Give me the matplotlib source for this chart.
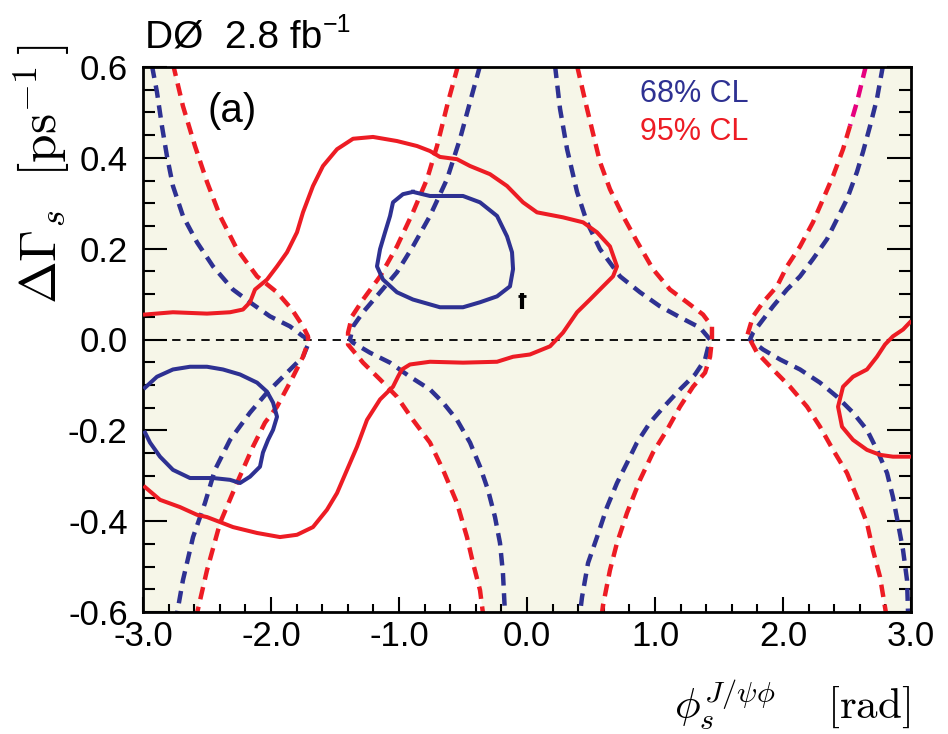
import numpy as np
import matplotlib
matplotlib.use("Agg")
import matplotlib.pyplot as plt
from matplotlib.ticker import MultipleLocator, FuncFormatter
from matplotlib.transforms import offset_copy

plt.rcParams["font.family"] = ["Liberation Sans", "DejaVu Sans"]
plt.rcParams["mathtext.fontset"] = "cm"
plt.rcParams["axes.unicode_minus"] = False
plt.rcParams["lines.scale_dashes"] = False

# ---------------- data ----------------
# 68% CL contours (phi_s [rad], DeltaGamma_s [ps^-1])
CL68_A_PHI = [-0.891, -0.758, -0.500, -0.367, -0.234, -0.156, -0.117, -0.109, -0.133, -0.234,
              -0.367, -0.500, -0.680, -0.891, -1.016, -1.125, -1.172, -1.148, -1.109, -1.070,
              -1.047, -0.969, -0.891]
CL68_A_DG = [0.325, 0.316, 0.316, 0.302, 0.272, 0.227, 0.192, 0.155, 0.117, 0.095,
             0.082, 0.071, 0.071, 0.088, 0.104, 0.132, 0.161, 0.199, 0.236, 0.272,
             0.302, 0.320, 0.325]
CL68_B_PHI = [-2.984, -2.891, -2.766, -2.633, -2.500, -2.375, -2.242, -2.109, -2.031, -1.984,
              -1.953, -1.984, -2.023, -2.063, -2.086, -2.164, -2.242, -2.320, -2.453, -2.633,
              -2.766, -2.867, -2.945, -2.984]
CL68_B_DG = [-0.106, -0.082, -0.066, -0.060, -0.060, -0.066, -0.077, -0.095, -0.115, -0.139,
             -0.170, -0.199, -0.221, -0.249, -0.280, -0.302, -0.316, -0.309, -0.305, -0.305,
             -0.287, -0.258, -0.227, -0.205]

# 95% CL contours
CL95_A_PHI = [-2.984, -2.766, -2.500, -2.320, -2.219, -2.164, -2.125, -2.031, -1.953, -1.875,
              -1.797, -1.750, -1.672, -1.594, -1.484, -1.359, -1.203, -1.016, -0.859, -0.758,
              -0.680, -0.547, -0.445, -0.289, -0.156, -0.031, 0.078, 0.281, 0.438, 0.547,
              0.648, 0.703, 0.672, 0.594, 0.492, 0.391, 0.281, 0.180, 0.023, -0.109,
              -0.234, -0.500, -0.758, -0.914, -0.977, -1.008, -1.047, -1.148, -1.250, -1.328,
              -1.406, -1.484, -1.563, -1.672, -1.797, -1.930, -2.109, -2.297, -2.398, -2.500,
              -2.578, -2.711, -2.867, -2.984]
CL95_A_DG = [0.055, 0.060, 0.057, 0.060, 0.066, 0.082, 0.110, 0.132, 0.161, 0.192,
             0.236, 0.280, 0.338, 0.382, 0.419, 0.442, 0.446, 0.437, 0.426, 0.415,
             0.402, 0.397, 0.382, 0.364, 0.338, 0.302, 0.280, 0.269, 0.258, 0.236,
             0.205, 0.161, 0.139, 0.117, 0.088, 0.060, 0.015, -0.015, -0.033, -0.038,
             -0.049, -0.051, -0.049, -0.055, -0.066, -0.082, -0.104, -0.132, -0.177, -0.236,
             -0.287, -0.338, -0.375, -0.413, -0.430, -0.435, -0.426, -0.413, -0.402, -0.391,
             -0.386, -0.369, -0.353, -0.325]
CL95_B_PHI = [2.992, 2.938, 2.859, 2.797, 2.734, 2.656, 2.547, 2.469, 2.430, 2.461,
              2.547, 2.656, 2.758, 2.859, 2.992]
CL95_B_DG = [0.038, 0.022, 0.007, -0.011, -0.038, -0.066, -0.082, -0.104, -0.148, -0.192,
             -0.221, -0.243, -0.254, -0.258, -0.258]

# best-fit point
BEST_PHI = [-0.039]
BEST_DG = [0.085]

# inner (blue) band boundaries
IN_L_X = [-2.930, -2.891, -2.852, -2.813, -2.766, -2.688, -2.578, -2.453, -2.297, -2.164,
          -2.008, -1.852, -1.750, -1.695, -1.750, -1.875, -2.031, -2.164, -2.320, -2.438,
          -2.516, -2.609, -2.688, -2.734]
IN_L_Y = [0.603, 0.545, 0.470, 0.404, 0.338, 0.272, 0.214, 0.161, 0.110, 0.082,
          0.051, 0.029, 0.007, 0.000, -0.038, -0.073, -0.117, -0.161, -0.221, -0.287,
          -0.360, -0.435, -0.530, -0.603]
IN_CL_X = [-0.367, -0.445, -0.523, -0.625, -0.758, -0.891, -1.016, -1.148, -1.281, -1.359,
           -1.383, -1.359, -1.227, -1.070, -0.914, -0.758, -0.656, -0.547, -0.445, -0.367,
           -0.305, -0.250, -0.211, -0.188, -0.172]
IN_CL_Y = [0.603, 0.523, 0.442, 0.353, 0.272, 0.205, 0.148, 0.104, 0.060, 0.029,
           0.000, -0.007, -0.029, -0.051, -0.082, -0.110, -0.139, -0.177, -0.227, -0.280,
           -0.331, -0.391, -0.448, -0.514, -0.603]
IN_CR_X = [0.219, 0.258, 0.313, 0.391, 0.469, 0.570, 0.727, 0.883, 1.039, 1.195,
           1.352, 1.430, 1.391, 1.313, 1.195, 1.063, 0.961, 0.859, 0.781, 0.703,
           0.625, 0.547, 0.477, 0.430, 0.414]
IN_CR_Y = [0.603, 0.508, 0.419, 0.325, 0.258, 0.199, 0.139, 0.104, 0.073, 0.049,
           0.026, 0.000, -0.044, -0.077, -0.110, -0.150, -0.183, -0.227, -0.272, -0.316,
           -0.369, -0.435, -0.492, -0.567, -0.603]
IN_R_X = [2.781, 2.734, 2.680, 2.625, 2.578, 2.500, 2.422, 2.344, 2.234, 2.133,
          2.031, 1.922, 1.844, 1.766, 1.742, 1.844, 1.977, 2.133, 2.289, 2.422,
          2.547, 2.656, 2.734, 2.813, 2.859, 2.898, 2.938, 2.969, 2.977]
IN_R_Y = [0.603, 0.530, 0.470, 0.413, 0.369, 0.309, 0.265, 0.221, 0.177, 0.139,
          0.110, 0.073, 0.044, 0.015, 0.000, -0.022, -0.044, -0.066, -0.095, -0.126,
          -0.161, -0.199, -0.243, -0.294, -0.347, -0.404, -0.464, -0.530, -0.603]

# outer (red) band boundaries
OUT_L_X = [-2.766, -2.688, -2.594, -2.500, -2.398, -2.266, -2.109, -1.953, -1.836, -1.750,
           -1.711, -1.711, -1.750, -1.828, -1.953, -2.047, -2.141, -2.266, -2.398, -2.500,
           -2.578]
OUT_L_Y = [0.607, 0.514, 0.426, 0.347, 0.272, 0.199, 0.139, 0.104, 0.066, 0.029,
           0.007, -0.007, -0.038, -0.082, -0.148, -0.183, -0.236, -0.316, -0.404, -0.508,
           -0.603]
OUT_CL_X = [-0.539, -0.617, -0.703, -0.781, -0.891, -1.016, -1.148, -1.281, -1.367, -1.398,
            -1.398, -1.281, -1.148, -1.016, -0.891, -0.758, -0.656, -0.547, -0.469, -0.422,
            -0.367, -0.344]
OUT_CL_Y = [0.603, 0.523, 0.426, 0.353, 0.280, 0.205, 0.139, 0.088, 0.051, 0.015,
            -0.011, -0.051, -0.088, -0.126, -0.177, -0.227, -0.287, -0.360, -0.435, -0.492,
            -0.552, -0.603]
OUT_CR_X = [0.391, 0.469, 0.570, 0.648, 0.750, 0.859, 0.984, 1.117, 1.250, 1.375,
            1.445, 1.445, 1.430, 1.391, 1.297, 1.195, 1.094, 0.984, 0.883, 0.781,
            0.703, 0.648, 0.594, 0.586]
OUT_CR_Y = [0.603, 0.508, 0.391, 0.331, 0.272, 0.216, 0.155, 0.110, 0.082, 0.055,
            0.029, 0.000, -0.038, -0.073, -0.104, -0.148, -0.199, -0.249, -0.309, -0.382,
            -0.448, -0.508, -0.585, -0.603]
OUT_R_X = [2.648, 2.578, 2.523, 2.469, 2.391, 2.313, 2.234, 2.133, 2.031, 1.953,
           1.844, 1.766, 1.742, 1.719, 1.742, 1.797, 1.922, 2.055, 2.188, 2.289,
           2.391, 2.500, 2.578, 2.656, 2.703, 2.758, 2.805]
OUT_R_Y = [0.603, 0.523, 0.470, 0.419, 0.360, 0.309, 0.258, 0.205, 0.161, 0.117,
           0.082, 0.051, 0.029, 0.007, 0.000, -0.029, -0.066, -0.104, -0.148, -0.192,
           -0.243, -0.294, -0.347, -0.404, -0.464, -0.523, -0.603]

X_TICKS = [-3.0, -2.0, -1.0, 0.0, 1.0, 2.0, 3.0]
Y_TICKS = [-0.6, -0.4, -0.2, 0.0, 0.2, 0.4, 0.6]

# ---------------- style ----------------
BLUE = "#2e3192"
RED = "#ed1c24"
MAGENTA = "#e6007e"
SHADE = "#f6f6e8"
W, H = 948, 734


def fx(px):
    return px / W


def fy(py):
    return 1 - py / H


fig = plt.figure(figsize=(W / 100, H / 100), dpi=100)
ax = fig.add_axes([fx(143), fy(612), (911 - 143) / W, (612 - 67) / H])
ax.set_xlim(-3, 3)
ax.set_ylim(-0.6, 0.6)

# shaded allowed bands, bounded by the outer dashed curves
ax.fill(np.r_[-3, OUT_L_X, -3], np.r_[0.61, OUT_L_Y, -0.61], color=SHADE, lw=0, zorder=0)
ax.fill(np.r_[OUT_CL_X, OUT_CR_X[::-1]], np.r_[OUT_CL_Y, OUT_CR_Y[::-1]],
        color=SHADE, lw=0, zorder=0)
ax.fill(np.r_[OUT_R_X, 3, 3], np.r_[OUT_R_Y, -0.61, 0.61], color=SHADE, lw=0, zorder=0)

ax.axhline(0, color="black", lw=1.3, dashes=(6, 4.5), zorder=1)

dash = dict(lw=3.2, dashes=(9, 5.5), zorder=2, solid_capstyle="butt")
for xs, ys in [(IN_L_X, IN_L_Y), (IN_CL_X, IN_CL_Y), (IN_CR_X, IN_CR_Y), (IN_R_X, IN_R_Y)]:
    ax.plot(xs, ys, color=BLUE, **dash)
for xs, ys in [(OUT_L_X, OUT_L_Y), (OUT_CL_X, OUT_CL_Y), (OUT_CR_X, OUT_CR_Y)]:
    ax.plot(xs, ys, color=RED, **dash)
ax.plot(OUT_R_X[:3], OUT_R_Y[:3], color=MAGENTA, **dash)
ax.plot(OUT_R_X[2:], OUT_R_Y[2:], color=RED, **dash)

solid = dict(lw=2.9, zorder=3, solid_joinstyle="round")
ax.plot(CL68_A_PHI, CL68_A_DG, color=BLUE, **solid)
ax.plot(CL68_B_PHI, CL68_B_DG, color=BLUE, **solid)
ax.plot(CL95_A_PHI, CL95_A_DG, color=RED, **solid)
ax.plot(CL95_B_PHI, CL95_B_DG, color=RED, **solid)

ax.plot(BEST_PHI, BEST_DG, ls="none", marker="|", ms=11, mew=3, color="black", zorder=4)
ax.plot(BEST_PHI, BEST_DG, ls="none", marker="_", ms=6, mew=2, color="black", zorder=4,
        transform=offset_copy(ax.transData, fig=fig, y=3.5, units="points"))

# axes, ticks
fmt = FuncFormatter(lambda v, p: f"{round(v, 1) + 0.0:.1f}")
ax.set_xticks(X_TICKS)
ax.set_yticks(Y_TICKS)
ax.xaxis.set_minor_locator(MultipleLocator(0.2))
ax.yaxis.set_minor_locator(MultipleLocator(0.05))
ax.xaxis.set_major_formatter(fmt)
ax.yaxis.set_major_formatter(fmt)
ax.tick_params(axis="x", which="major", direction="in", length=11, width=1.5,
               top=False, labelsize=25, pad=6)
ax.tick_params(axis="x", which="minor", direction="in", length=5.5, width=1.5, top=False)
ax.tick_params(axis="y", which="major", direction="in", length=17, width=1.5,
               right=True, labelsize=25, pad=11)
ax.tick_params(axis="y", which="minor", direction="in", length=8.5, width=1.5, right=True)
for s in ax.spines.values():
    s.set_linewidth(2)

# labels and annotations
fig.text(fx(42), fy(44), r"$\Delta\Gamma_s\ \ [\mathrm{ps}^{-1}\,]$", rotation=90,
         ha="center", va="top", fontsize=37)
fig.text(fx(910), fy(720), r"$\phi_s^{J/\psi\phi}\quad\ [\mathrm{rad}]$",
         ha="right", va="baseline", fontsize=31)

title = fig.text(fx(145), fy(48), "DØ  2.8 fb", fontsize=28, va="baseline")
ax.annotate("\u22121", xy=(1, 1), xycoords=title, xytext=(0.5, 5),
            textcoords="offset points", ha="left", va="top", fontsize=18)

fig.text(fx(208), fy(111), "(a)", fontsize=29, va="center")
fig.text(fx(640), fy(102), "68% CL", color=BLUE, fontsize=22, va="baseline")
fig.text(fx(640), fy(140), "95% CL", color=RED, fontsize=22, va="baseline")

fig.savefig("out.png", dpi=100)
